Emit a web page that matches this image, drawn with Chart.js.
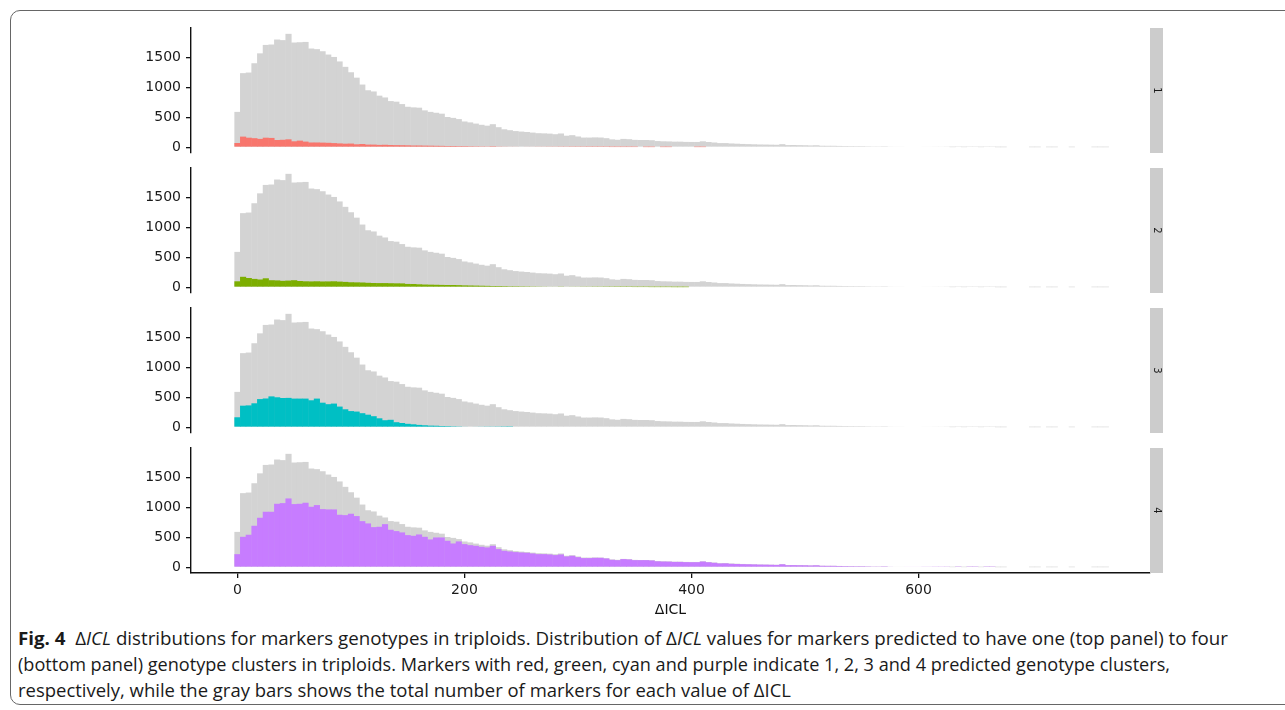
<!DOCTYPE html>
<html><head><meta charset="utf-8">
<script src="https://cdn.jsdelivr.net/npm/chart.js@4.4.1/dist/chart.umd.min.js"></script>
<style>
html,body{margin:0;padding:0;background:#fff;width:1285px;height:710px;overflow:hidden;position:relative;}
#frame{position:absolute;left:10px;top:10px;width:1300px;height:695px;border:1px solid #666;border-radius:10px;box-sizing:border-box;}
canvas.panel{position:absolute;left:0;}
.cap{position:absolute;left:18px;font-family:'Open Sans';font-size:17.5px;line-height:24px;color:#1a1a1a;white-space:nowrap;transform-origin:0 0;}
.cap b{font-weight:700;}
</style></head><body>
<div id="frame"></div>
<canvas id="p1" class="panel"></canvas>
<canvas id="p2" class="panel"></canvas>
<canvas id="p3" class="panel"></canvas>
<canvas id="p4" class="panel"></canvas>
<div class="cap" id="c1" style="top:626px"><b>Fig. 4</b>&nbsp;&nbsp;Δ<i>ICL</i> distributions for markers genotypes in triploids. Distribution of Δ<i>ICL</i> values for markers predicted to have one (top panel) to four</div>
<div class="cap" id="c2" style="top:652px">(bottom panel) genotype clusters in triploids. Markers with red, green, cyan and purple indicate 1, 2, 3 and 4 predicted genotype clusters,</div>
<div class="cap" id="c3" style="top:678px">respectively, while the gray bars shows the total number of markers for each value of ΔICL</div>
<script>
// ---- data (bins of width 5, centred at 0, 5, 10, ...) ----
const binWidth = 5;
const panelLabels = ['1','2','3','4'];
const xTicks = [0, 200, 400, 600];
const yTicks = [0, 500, 1000, 1500];

const grayTotal = [
 590,1235,1245,1400,1565,1705,1712,1795,1785,1890,
 1745,1750,1755,1645,1635,1600,1545,1505,1430,1340,
 1250,1160,1045,950,930,860,830,770,760,720,
 675,665,660,615,590,575,560,505,490,470,
 430,415,395,375,360,385,335,300,285,270,
 262,255,245,235,232,228,218,230,193,202,
 180,162,162,165,163,152,132,125,140,135,
 124,122,122,118,104,100,98,94,94,90,
 89,89,100,88,80,70,70,64,60,56,
 53,50,47,46,44,42,52,37,38,36,
 34,31,34,26,25,25,23,21,20,19,
 19,17,15,15,17,13,12,12,11,11,
 11,10,10,9,9,8,2,6,2,6,
 6,2,6,6,1,1,0,0,0,0,
 1,1,0,1,1,0,0,1,0,0,
 0,1,1,1];

const cluster1Red = [
 72,178,160,152,140,160,156,122,125,133,
 100,111,95,80,80,78,75,70,65,60,
 62,50,55,45,45,40,42,38,36,35,
 33,30,30,28,27,25,24,22,22,20,
 20,18,17,16,15,18,14,13,12,12,
 11,10,10,9,9,8,8,7,7,6,
 6,6,5,5,5,5,4,4,4,4,
 4,0,3,3,0,3,3,0,0,0,
 0,3,3];

const cluster2Green = [
 100,175,155,140,130,150,118,115,108,112,
 118,105,100,98,100,97,98,100,95,90,
 84,82,80,75,72,70,70,68,66,65,
 56,55,50,46,44,42,40,38,38,36,
 32,30,28,26,24,22,22,20,18,18,
 17,16,15,14,13,12,12,14,10,9,
 9,8,8,7,7,6,6,5,5,5,
 4,4,4,3,3,3,3,2,2,2];

const cluster3Cyan = [
 167,360,365,400,470,480,515,500,488,490,
 478,478,478,450,478,410,385,395,345,300,
 270,262,235,210,185,150,118,125,85,72,
 58,50,40,34,28,26,22,20,17,15,
 12,11,10,9,8,8,7,6,5];

const cluster4Purple = [
 219,508,542,692,825,925,925,1058,1069,1147,
 1053,1058,1075,1008,1036,969,964,964,875,869,
 892,853,769,731,669,675,719,625,603,581,
 536,525,547,508,464,497,497,442,397,431,
 386,369,358,342,331,358,303,275,264,253,
 247,242,231,219,219,214,203,214,181,192,
 169,153,153,158,158,147,125,119,136,131,
 119,119,119,114,100,96,95,90,90,86,
 85,85,96,84,75,64,66,58,55,52,
 50,48,45,44,42,40,50,35,36,34,
 33,30,33,25,24,24,22,20,19,18,
 18,16,14,14,16,12,11,11,10,10,
 10,9,9,8,8,8,0,6,0,6,
 6,0,6,6];

const binCentres = grayTotal.map((_, i) => i * binWidth);
const clusterSeries = [cluster1Red, cluster2Green, cluster3Cyan, cluster4Purple];
const clusterColors = ['#F8766D', '#7CAE00', '#00BFC4', '#C77CFF'];
const GRAY = '#d3d3d3';

// ---- drawing ----
Chart.defaults.font.family = "'DejaVu Sans'";
function pts(arr){ return arr.map((v,i)=>({x: binCentres[i], y: v})); }

const stripPlugin = (label) => ({
  id: 'strip',
  afterDraw(chart){
    const {ctx, chartArea:a} = chart;
    ctx.save();
    ctx.fillStyle = '#cccccc';
    ctx.fillRect(a.right, a.top, 13, a.bottom - a.top);
    ctx.translate(a.right + 6.5, (a.top + a.bottom)/2);
    ctx.rotate(Math.PI/2);
    ctx.fillStyle = '#1a1a1a';
    ctx.font = "10px 'DejaVu Sans'";
    ctx.textAlign = 'center';
    ctx.textBaseline = 'middle';
    ctx.fillText(label, 0, 0);
    ctx.restore();
  }
});

const PANEL_TOP0 = 28, PANEL_H = 125, PANEL_GAP = 15, PAD = 5, XAXIS_H = 46;

function makePanel(idx){
  const showX = idx === 3;
  const canvas = document.getElementById('p' + (idx+1));
  const top = PANEL_TOP0 + idx * (PANEL_H + PANEL_GAP);
  const H = PAD + PANEL_H + (showX ? XAXIS_H : PAD);
  canvas.width = 1200; canvas.height = H;
  canvas.style.width = '1200px'; canvas.style.height = H + 'px';
  canvas.style.top = (top - PAD) + 'px';
  new Chart(canvas, {
    type: 'bar',
    data: { datasets: [
      { data: pts(clusterSeries[idx]), backgroundColor: clusterColors[idx], order: 0 },
      { data: pts(grayTotal), backgroundColor: GRAY, order: 1 }
    ]},
    options: {
      responsive: false, maintainAspectRatio: false, animation: false, devicePixelRatio: 1,
      layout: { padding: { top: PAD, right: 50, bottom: showX ? 0 : PAD, left: 0 } },
      plugins: { legend: { display: false }, tooltip: { enabled: false } },
      datasets: { bar: { grouped: false, barPercentage: 1.08, categoryPercentage: 1, borderWidth: 0 } },
      scales: {
        x: {
          type: 'linear', min: -40.9, max: 803.9, offset: false, display: showX,
          afterBuildTicks: s => { s.ticks = xTicks.map(v => ({value: v})); },
          afterFit: s => { if (showX) { s.height = XAXIS_H; } s.paddingLeft = 0; s.paddingRight = 0; },
          grid: { display: true, drawOnChartArea: false, drawTicks: true, tickLength: 5, color: '#111', lineWidth: 1.3, offset: false },
          border: { display: true, color: '#111', width: 1.4 },
          ticks: { color: '#1a1a1a', font: { size: 14 }, padding: 4, maxRotation: 0, callback: v => String(v) },
          title: { display: true, text: 'ΔICL', color: '#111', font: { size: 14 }, padding: { top: 0, bottom: 0 } }
        },
        y: {
          min: -95, max: 1987, position: 'left',
          afterBuildTicks: s => { s.ticks = yTicks.map(v => ({value: v})); },
          afterFit: s => { s.width = 191; s.paddingTop = 0; s.paddingBottom = 0; },
          grid: { display: true, drawOnChartArea: false, drawTicks: true, tickLength: 5, color: '#111', lineWidth: 1.3 },
          border: { display: true, color: '#111', width: 1.4 },
          ticks: { color: '#1a1a1a', font: { size: 14 }, padding: 5, callback: v => String(v) }
        }
      }
    },
    plugins: [stripPlugin(panelLabels[idx])]
  });
}
[0,1,2,3].forEach(makePanel);

// fit caption lines to their measured widths in the figure
const capTargets = {c1: 1210, c2: 1152, c3: 773};
for (const id in capTargets){
  const el = document.getElementById(id);
  const w = el.getBoundingClientRect().width;
  el.style.transform = 'scaleX(' + (capTargets[id] / w) + ')';
}
</script>
</body></html>
